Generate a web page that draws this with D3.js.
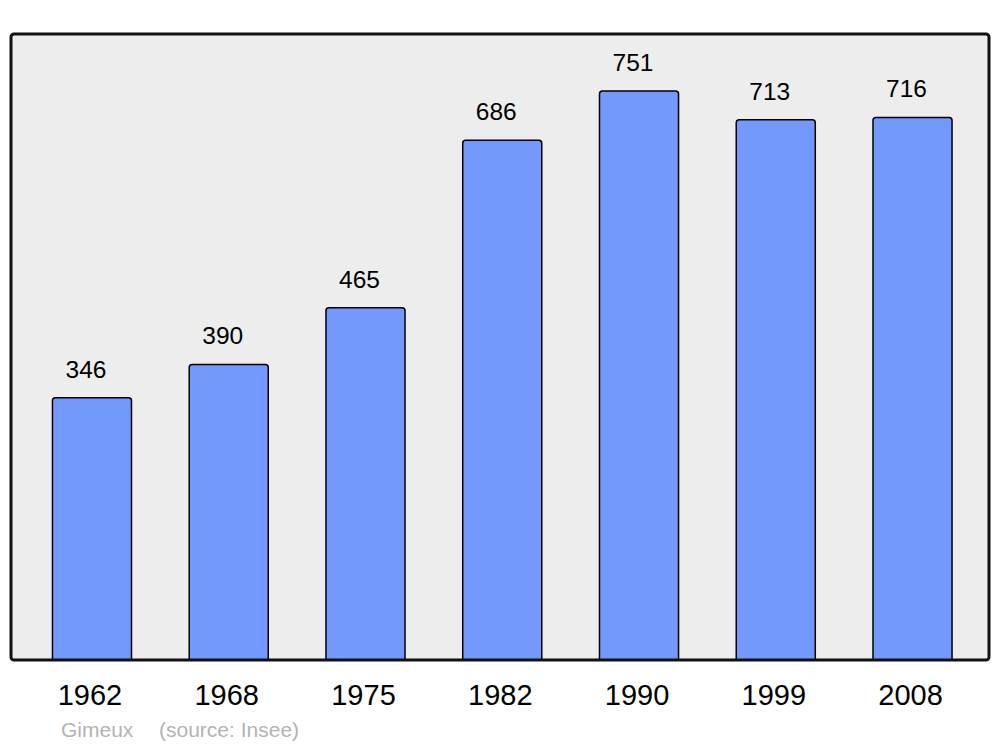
<!DOCTYPE html>
<html>
<head>
<meta charset="utf-8">
<script src="https://cdn.jsdelivr.net/npm/d3@7"></script>
<style>
body { margin: 0; background: #fff; }
svg { display: block; font-family: "Liberation Sans", Arial, sans-serif; }
</style>
</head>
<body>
<script>
// population data
var years = ["1962", "1968", "1975", "1982", "1990", "1999", "2008"];
var population = [346, 390, 465, 686, 751, 713, 716];
var commune = "Gimeux";
var source = "(source: Insee)";

var width = 1000,
    height = 747;

var panel = {left: 11, top: 34, right: 989, bottom: 660};

var svg = d3.select("body")
    .append("svg")
    .attr("width", width)
    .attr("height", height);

//background panel
svg.append("rect")
    .attr("x", panel.left)
    .attr("y", panel.top)
    .attr("width", panel.right - panel.left)
    .attr("height", panel.bottom - panel.top)
    .attr("rx", 3)
    .attr("fill", "#ededed");

var x = d3.scaleBand()
    .domain(years)
    .range([23.6, 980.9])
    .paddingInner(0.422)
    .paddingOuter(0.211);

var y = d3.scaleLinear()
    .domain([0, d3.max(population) * 1.1])
    .range([panel.bottom, panel.top]);

//bars, rounded on top only
function barPath(d, i) {
    var x0 = x(years[i]),
        w = x.bandwidth(),
        y0 = y(d),
        yb = panel.bottom,
        r = 3;
    return "M" + x0 + "," + yb +
        "V" + (y0 + r) +
        "Q" + x0 + "," + y0 + " " + (x0 + r) + "," + y0 +
        "H" + (x0 + w - r) +
        "Q" + (x0 + w) + "," + y0 + " " + (x0 + w) + "," + (y0 + r) +
        "V" + yb + "Z";
}

svg.selectAll(".bar")
    .data(population)
    .enter()
    .append("path")
    .attr("class", "bar")
    .attr("d", barPath)
    .attr("fill", "#7399ff")
    .attr("stroke", "#000")
    .attr("stroke-width", 1.5);

//value labels
svg.selectAll(".val")
    .data(population)
    .enter()
    .append("text")
    .attr("class", "val")
    .attr("x", function(d, i) { return x(years[i]) + x.bandwidth() / 2 - 6; })
    .attr("y", function(d) { return y(d) - 20; })
    .attr("text-anchor", "middle")
    .attr("font-size", 24.5)
    .text(function(d) { return d; });

//panel border on top
svg.append("rect")
    .attr("x", panel.left)
    .attr("y", panel.top)
    .attr("width", panel.right - panel.left)
    .attr("height", panel.bottom - panel.top)
    .attr("rx", 3)
    .attr("fill", "none")
    .attr("stroke", "#111")
    .attr("stroke-width", 3);

//year axis labels
var axis = d3.axisBottom(x).tickSize(0).tickPadding(0);
var gAxis = svg.append("g")
    .attr("transform", "translate(0,680)")
    .call(axis);
gAxis.select(".domain").remove();
gAxis.selectAll("text")
    .attr("dy", null)
    .attr("y", 25)
    .attr("dx", -2)
    .attr("font-size", 29)
    .attr("font-family", "Liberation Sans, Arial, sans-serif")
    .attr("fill", "#000");

//source line
svg.append("text")
    .attr("x", 61)
    .attr("y", 737)
    .attr("font-size", 21)
    .attr("fill", "#b3b3b3")
    .text(commune);

svg.append("text")
    .attr("x", 159)
    .attr("y", 737)
    .attr("font-size", 21)
    .attr("fill", "#b3b3b3")
    .text(source);
</script>
</body>
</html>
